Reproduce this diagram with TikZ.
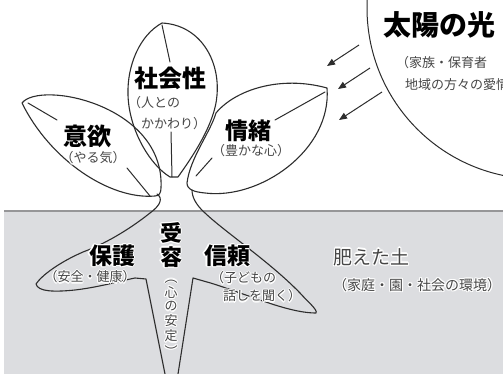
\documentclass[tikz,border=0pt]{standalone}
\usepackage{fontspec}
\usetikzlibrary{arrows.meta}
\newfontfamily\jp{Noto Sans CJK JP}
\definecolor{soil}{RGB}{220,221,224}
\definecolor{soiledge}{RGB}{150,150,152}
\definecolor{ink}{RGB}{45,45,45}
\definecolor{soft}{RGB}{70,70,70}
% white glow behind a piece of text, built from shifted copies
\newcommand{\halotxt}[1]{{\setbox0=\hbox{#1}%
  \rlap{\color{white}\kern-1.2pt\copy0}%
  \rlap{\color{white}\kern1.2pt\copy0}%
  \rlap{\color{white}\raise1.2pt\copy0}%
  \rlap{\color{white}\lower1.2pt\copy0}%
  \rlap{\color{white}\kern-.85pt\raise.85pt\copy0}%
  \rlap{\color{white}\kern.85pt\raise.85pt\copy0}%
  \rlap{\color{white}\kern-.85pt\lower.85pt\copy0}%
  \rlap{\color{white}\kern.85pt\lower.85pt\copy0}%
  \box0}}
\begin{document}
\begin{tikzpicture}[x=1pt,y=-1pt,
  outline/.style={draw=ink, line width=1.1pt, line join=round, line cap=round},
  rib/.style={draw=ink, line width=1pt, line cap=round},
  label/.style={font=\jp\bfseries\fontsize{24}{26}\selectfont, text=black, inner sep=0pt},
  midlabel/.style={label, font=\jp\bfseries\fontsize{23}{24}\selectfont},
  biglabel/.style={label, font=\jp\bfseries\fontsize{28}{30}\selectfont},
  note/.style={font=\jp\fontsize{13}{14}\selectfont, text=soft, inner sep=0pt},
  soiltxt/.style={font=\jp\fontsize{19}{21}\selectfont, text=soft, inner sep=0pt},
  soilnote/.style={font=\jp\fontsize{14}{16}\selectfont, text=soft, inner sep=0pt},
  ray/.style={draw=ink, line width=1pt, -{Triangle[length=8pt,width=6.5pt]}},
]
\useasboundingbox (0,0) rectangle (503,374);
\fill[white] (0,0) rectangle (503,374);

% soil
\fill[soil] (4,211) rectangle (503,374);
\draw[soiledge, line width=1.2pt] (4,211) -- (503,211);

% stem and roots, left side: 保護 root, then down into the 受容 wedge
\draw[outline] (157,194) .. controls (163,198) and (161,205) .. (150,213)
  .. controls (135,225) and (110,242) .. (83,252)
  .. controls (60,262) and (42,275) .. (36,284)
  .. controls (38,292) and (55,292) .. (75,290)
  .. controls (100,287) and (120,281) .. (135,278)
  -- (146,279) -- (165,374);
% right side: 信頼 root, then down into the 受容 wedge
\draw[outline] (192,190) .. controls (192,197) and (196,205) .. (205,213)
  .. controls (225,232) and (270,262) .. (300,293)
  .. controls (308,302) and (318,310) .. (316,313)
  .. controls (300,313) and (280,307) .. (260,300)
  .. controls (240,293) and (215,284) .. (207,282)
  -- (193,278) -- (178,374);

% left leaf
\draw[outline] (22,103) .. controls (40,80) and (165,105) .. (161,188)
  .. controls (161,193) and (159,196) .. (155,196)
  .. controls (110,200) and (50,160) .. (22,103) -- cycle;
\draw[rib] (28,103) -- (57,120);
\draw[rib] (127,168) -- (150,196);

% right leaf
\draw[outline] (187,183) .. controls (190,158) and (210,133) .. (216,113)
  .. controls (235,90) and (280,75) .. (327,88)
  .. controls (332,150) and (260,200) .. (205,193)
  .. controls (195,192) and (187,190) .. (187,183) -- cycle;
\draw[rib] (325,92) -- (275,120);
\draw[rib] (212,158) -- (196,176);

% top leaf
\draw[outline] (170,177) .. controls (150,165) and (129,130) .. (128,95)
  .. controls (127,65) and (140,35) .. (162,23)
  .. controls (200,25) and (220,60) .. (217,95)
  .. controls (215,125) and (190,160) .. (178,177) -- cycle;
\draw[rib] (162,25) -- (170,62);
\draw[rib] (171,132) -- (172,177);

% sun
\begin{scope}
  \clip (0,0) rectangle (503,374);
  \draw[ink, line width=1pt] (538,8) circle[radius=171pt];
  \node[biglabel] (sun) at (439,25) {\halotxt{太陽の光}};
  \node[note, anchor=west] (sunA) at (396,63) {（家族・保育者};
  \node[note, anchor=west] (sunB) at (405,85) {地域の方々の愛情）};
\end{scope}

% rays
\coordinate (r1a) at (359,45);  \coordinate (r1b) at (327,66);
\coordinate (r2a) at (370,68);  \coordinate (r2b) at (338,89);
\coordinate (r3a) at (382,92);  \coordinate (r3b) at (339,120);
\draw[ray] (r1a) -- (r1b);
\draw[ray] (r2a) -- (r2b);
\draw[ray] (r3a) -- (r3b);

% leaf texts
\node[label] (shakai) at (170,78) {\halotxt{社会性}};
\node[note, anchor=west] (shakaiA) at (128,103) {\halotxt{（人との}};
\node[note, anchor=west] (shakaiB) at (141,124) {\halotxt{かかわり）}};
\node[label] (iyoku) at (87,136) {\halotxt{意欲}};
\node[note] (iyokuA) at (93,158) {\halotxt{（やる気）}};
\node[midlabel] (jocho) at (248,131) {\halotxt{情緒}};
\node[note] (jochoA) at (251,151) {\halotxt{（豊かな心）}};

% root texts
\node[midlabel] (hogo) at (112,256) {\halotxt{保護}};
\node[note] (hogoA) at (90,277) {\halotxt{（安全・健康）}};
\node[midlabel, align=center, font=\jp\bfseries\fontsize{22}{23.5}\selectfont] (juyo) at (171,245)
  {\halotxt{受}\\\halotxt{容}};
\node[note, align=center, font=\jp\fontsize{13}{13.5}\selectfont] (juyoA) at (171,318)
  {\halotxt{︵}\\\halotxt{心}\\\halotxt{の}\\\halotxt{安}\\\halotxt{定}\\\halotxt{︶}};
\node[midlabel] (shinrai) at (227,256) {\halotxt{信頼}};
\node[note, anchor=west] (shinraiA) at (211,278) {\halotxt{（子どもの}};
\node[note, anchor=west] (shinraiB) at (223,296) {\halotxt{話しを聞く）}};

% soil texts
\node[soiltxt, anchor=west] (soilT) at (333,257) {\halotxt{肥えた土}};
\node[soilnote, anchor=west] (soilA) at (333,285) {\halotxt{（家庭・園・社会の環境）}};
\end{tikzpicture}
\end{document}
